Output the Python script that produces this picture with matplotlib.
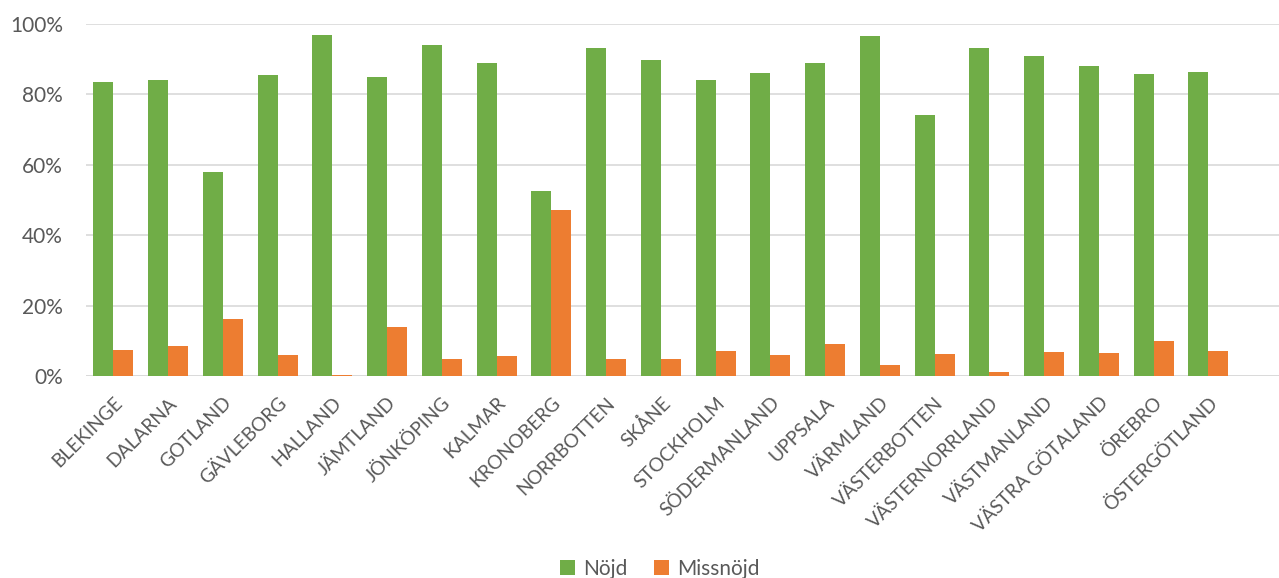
import numpy as np
import matplotlib
matplotlib.use("Agg")
import matplotlib.pyplot as plt
from matplotlib.ticker import PercentFormatter

plt.rcParams["font.family"] = ["Lato", "DejaVu Sans"]

regions = [
    "BLEKINGE", "DALARNA", "GOTLAND", "GÄVLEBORG", "HALLAND", "JÄMTLAND",
    "JÖNKÖPING", "KALMAR", "KRONOBERG", "NORRBOTTEN", "SKÅNE", "STOCKHOLM",
    "SÖDERMANLAND", "UPPSALA", "VÄRMLAND", "VÄSTERBOTTEN", "VÄSTERNORRLAND",
    "VÄSTMANLAND", "VÄSTRA GÖTALAND", "ÖREBRO", "ÖSTERGÖTLAND",
]

# share of respondents, percent
nojd = [83.6, 84.0, 57.9, 85.5, 97.0, 85.0, 94.1, 88.9, 52.6, 93.3, 89.7,
        84.0, 86.1, 89.0, 96.5, 74.1, 93.1, 91.0, 88.0, 85.8, 86.3]
missnojd = [7.3, 8.6, 16.2, 6.0, 0.4, 14.0, 4.8, 5.7, 47.3, 4.8, 4.9,
            7.2, 6.0, 9.1, 3.1, 6.2, 1.1, 6.7, 6.5, 9.9, 7.0]

green = "#70AD47"
orange = "#ED7D31"
text_color = "#595959"
grid_color = "#D9D9D9"

fig = plt.figure(figsize=(12.79, 5.78), dpi=100)
ax = fig.add_axes([86 / 1279, 1 - 376 / 578, 1 - 86 / 1279, 352 / 578])

x = np.arange(len(regions))
w = 0.365
ax.bar(x - w / 2, nojd, w, color=green, label="Nöjd", linewidth=0, zorder=3)
ax.bar(x + w / 2, missnojd, w, color=orange, label="Missnöjd",
       linewidth=0, zorder=3)

ax.set_xlim(-0.5, 21.29)
ax.set_ylim(0, 100)
ax.set_yticks(np.arange(0, 101, 20))
ax.yaxis.set_major_formatter(PercentFormatter(decimals=0))
ax.grid(axis="y", color=grid_color, linewidth=1.2, zorder=0)
ax.axhline(0, color=grid_color, linewidth=1.8, zorder=2)

for side in ["top", "right", "left", "bottom"]:
    ax.spines[side].set_visible(False)

ax.tick_params(axis="both", length=0, colors=text_color)
ax.tick_params(axis="y", pad=16.5, labelsize=15)
ax.set_xticks(x)
ax.set_xticklabels(regions, rotation=45, ha="right", va="top",
                   rotation_mode="anchor", fontsize=13.8, color=text_color)
ax.tick_params(axis="x", pad=13)

fig.legend(loc="center", bbox_to_anchor=(0.516, 0.016), ncol=2, frameon=False,
           fontsize=15, labelcolor=text_color, handlelength=0.7,
           handleheight=0.7, handletextpad=0.4, columnspacing=1.3)

fig.savefig("out.png", dpi=100)
